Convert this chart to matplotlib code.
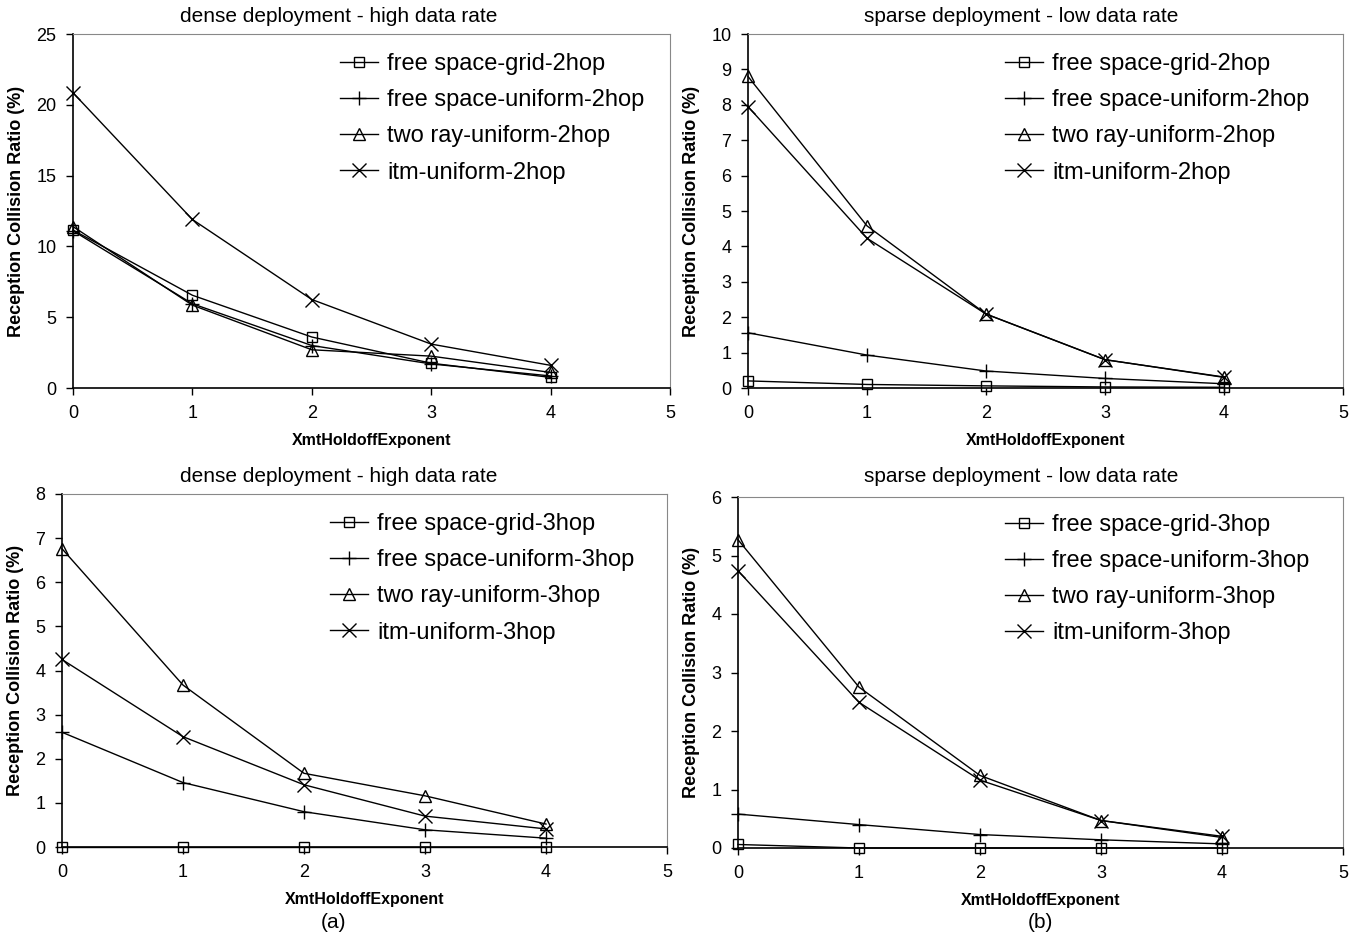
import numpy as np
import matplotlib.pyplot as plt

plt.rcParams['font.family'] = ['Liberation Sans', 'DejaVu Sans']

x = [0, 1, 2, 3, 4]

# dense deployment, 2 hop
dense2_grid = [11.15, 6.55, 3.6, 1.75, 0.75]
dense2_uniform = [11.1, 5.95, 3.0, 1.7, 0.85]
dense2_tworay = [11.4, 5.85, 2.7, 2.25, 1.1]
dense2_itm = [20.85, 11.9, 6.25, 3.1, 1.6]

# sparse deployment, 2 hop
sparse2_grid = [0.2, 0.1, 0.06, 0.03, 0.02]
sparse2_uniform = [1.56, 0.93, 0.48, 0.27, 0.12]
sparse2_tworay = [8.8, 4.58, 2.09, 0.8, 0.3]
sparse2_itm = [7.95, 4.23, 2.09, 0.8, 0.31]

# dense deployment, 3 hop
dense3_grid = [0.0, 0.0, 0.0, 0.0, 0.0]
dense3_uniform = [2.6, 1.46, 0.8, 0.39, 0.2]
dense3_tworay = [6.76, 3.67, 1.67, 1.16, 0.52]
dense3_itm = [4.25, 2.5, 1.41, 0.7, 0.41]

# sparse deployment, 3 hop
sparse3_grid = [0.06, 0.0, 0.0, 0.0, 0.0]
sparse3_uniform = [0.58, 0.4, 0.23, 0.14, 0.07]
sparse3_tworay = [5.27, 2.75, 1.24, 0.47, 0.18]
sparse3_itm = [4.74, 2.49, 1.16, 0.47, 0.2]

markers = ['s', '+', '^', 'x']
msizes = [7.5, 10, 8.5, 10]
names = ['free space-grid-{}', 'free space-uniform-{}', 'two ray-uniform-{}', 'itm-uniform-{}']

# title, hop, series, ymax, ystep, axes box (px), title pos (px), legend anchor (px)
panels = [
    ('dense deployment - high data rate', '2hop', [dense2_grid, dense2_uniform, dense2_tworay, dense2_itm], 25, 5,
     [73, 34, 670, 388], (339, 16), (340, 53)),
    ('sparse deployment - low data rate', '2hop', [sparse2_grid, sparse2_uniform, sparse2_tworay, sparse2_itm], 10, 1,
     [748, 34, 1343, 388], (1021, 16), (1005, 53)),
    ('dense deployment - high data rate', '3hop', [dense3_grid, dense3_uniform, dense3_tworay, dense3_itm], 8, 1,
     [62, 494, 667, 847], (339, 476), (330, 513)),
    ('sparse deployment - low data rate', '3hop', [sparse3_grid, sparse3_uniform, sparse3_tworay, sparse3_itm], 6, 1,
     [738, 497, 1343, 848], (1021, 476), (1005, 514)),
]

W, H = 1371, 936
fig = plt.figure(figsize=(W / 100, H / 100), dpi=100)

for title, hop, series, ymax, ystep, (x0, y0, x1, y1), (tx, ty), (lx, ly) in panels:
    ax = fig.add_axes([x0 / W, 1 - y1 / H, (x1 - x0) / W, (y1 - y0) / H])
    for m, ms, name, ys in zip(markers, msizes, names, series):
        ax.plot(x, ys, color='black', lw=1.0, marker=m, markersize=ms,
                markerfacecolor='none', markeredgecolor='black', markeredgewidth=1.0,
                label=name.format(hop), clip_on=False)
    ax.set_xlim(0, 5)
    ax.set_ylim(0, ymax)
    ax.set_xticks(range(6))
    ax.set_yticks(np.arange(0, ymax + 0.001, ystep))
    ax.tick_params(direction='out', length=5, width=1, labelsize=13, pad=7)
    for s in ['top', 'right']:
        ax.spines[s].set_color('#888888')
    for s in ['left', 'bottom']:
        ax.spines[s].set_linewidth(1.2)
    fig.text(tx / W, 1 - ty / H, title, ha='center', va='center', fontsize=15)
    ax.set_xlabel('XmtHoldoffExponent', fontsize=11.5, fontweight='bold', labelpad=8)
    ax.set_ylabel('Reception Collision Ratio (%)', fontsize=13, fontweight='bold', labelpad=8)
    ax.legend(loc='upper left', frameon=False, fontsize=17, handlelength=1.6, handletextpad=0.4,
              labelspacing=0.6, borderpad=0, borderaxespad=0,
              bbox_to_anchor=(lx / W, 1 - ly / H), bbox_transform=fig.transFigure)

fig.text(333 / W, 1 - 922 / H, '(a)', ha='center', va='center', fontsize=15)
fig.text(1040 / W, 1 - 922 / H, '(b)', ha='center', va='center', fontsize=15)

fig.savefig('out.png', dpi=100, facecolor='white')
